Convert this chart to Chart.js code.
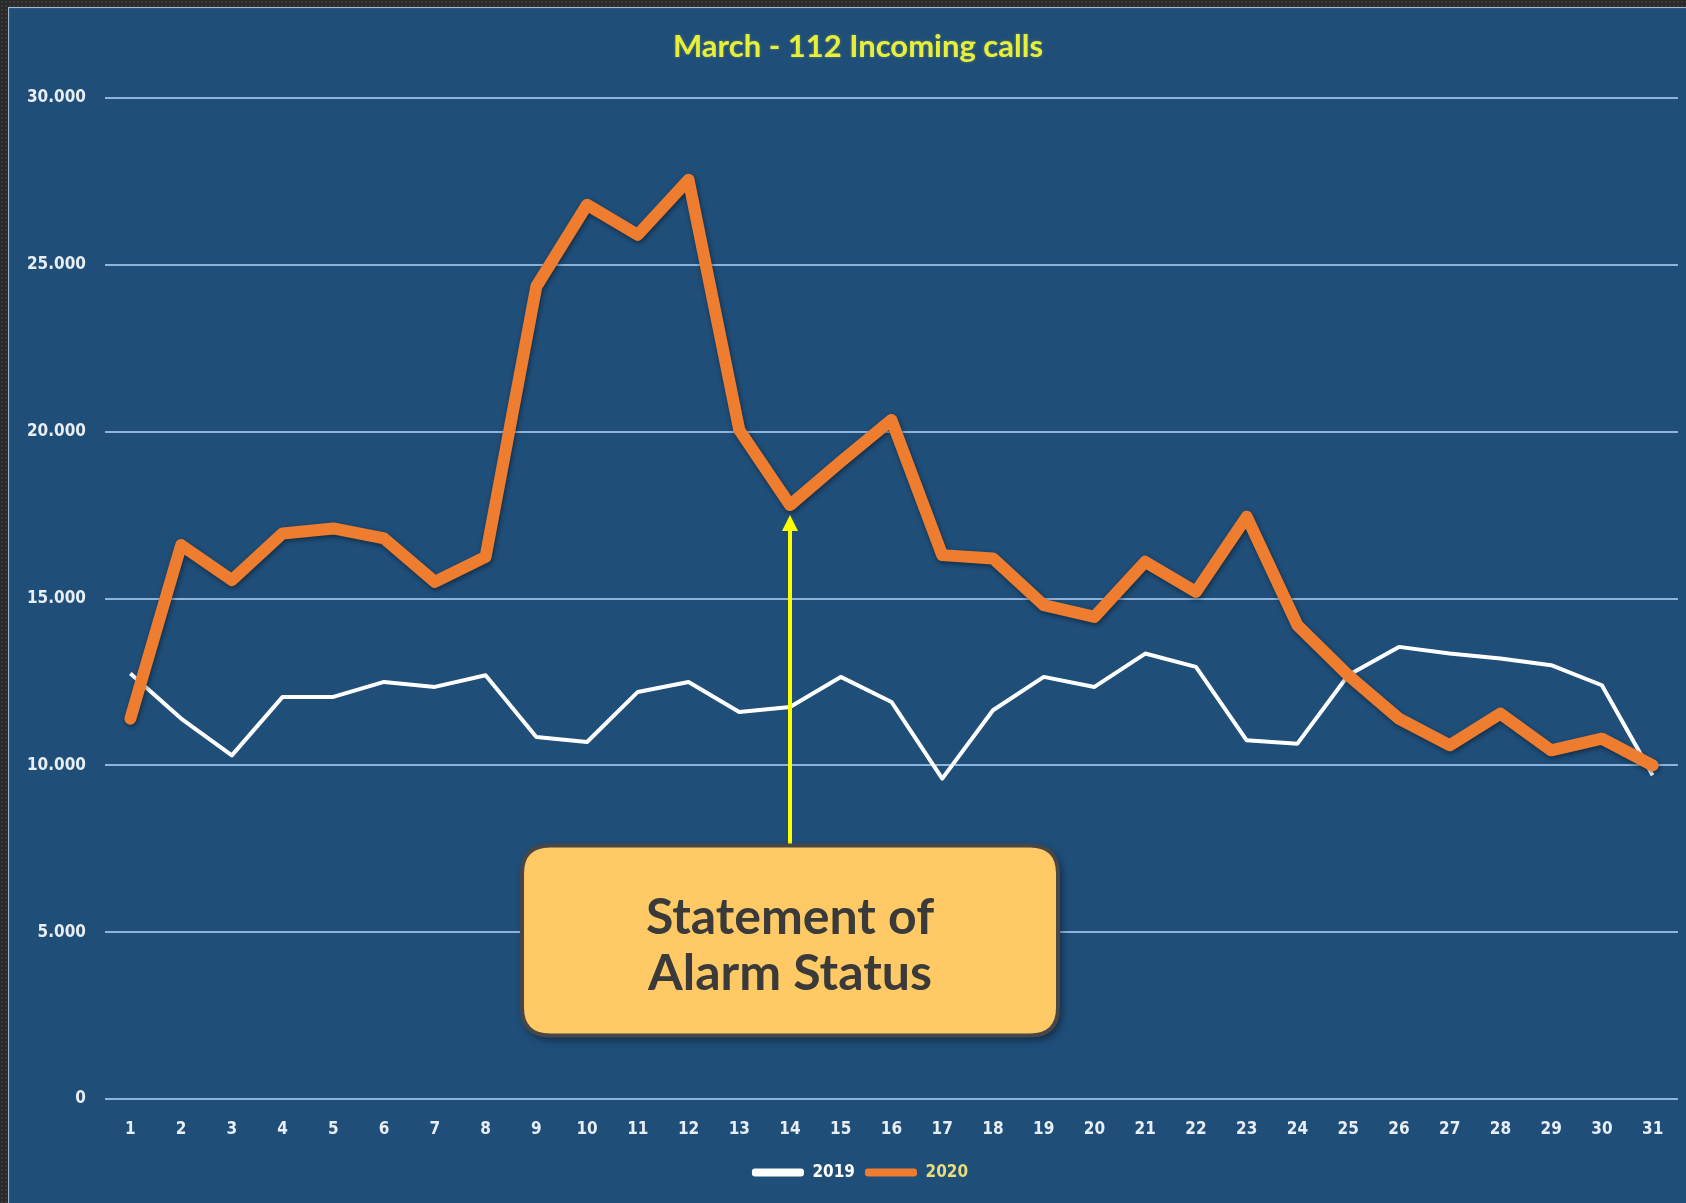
<!DOCTYPE html>
<html>
<head>
<meta charset="utf-8">
<script src="https://cdn.jsdelivr.net/npm/chart.js@4.4.1/dist/chart.umd.min.js"></script>
<style>
  html, body { margin: 0; padding: 0; }
  body {
    width: 1686px; height: 1203px; overflow: hidden;
    background-color: #2a2a2a;
    background-image: radial-gradient(#3a3a3a 1px, transparent 1.5px);
    background-size: 4px 4px;
    position: relative;
  }
  #panel {
    position: absolute; left: 8px; top: 7px; width: 1678px; height: 1196px;
    background: #1f4e79;
    box-shadow: inset 1px 1px 0 #9fb6cc, inset 2px 2px 0 #2c5782;
  }
  canvas { display: block; }
</style>
</head>
<body>
<div id="panel"><canvas id="c" width="1678" height="1196"></canvas></div>
<script>
// ---- data ----
const days = ['1','2','3','4','5','6','7','8','9','10','11','12','13','14','15','16','17','18','19','20','21','22','23','24','25','26','27','28','29','30','31'];
const calls2019 = [12750, 11400, 10300, 12050, 12050, 12500, 12350, 12700, 10850, 10700, 12200, 12500, 11600, 11750, 12650, 11900, 9600, 11650, 12650, 12350, 13350, 12950, 10750, 10650, 12700, 13550, 13350, 13200, 13000, 12400, 9700];
const calls2020 = [11400, 16600, 15550, 16950, 17100, 16800, 15500, 16250, 24350, 26800, 25900, 27550, 20050, 17800, 19100, 20350, 16300, 16200, 14800, 14450, 16100, 15200, 17450, 14200, 12700, 11400, 10600, 11550, 10450, 10800, 10000];
const yTicks = [0, 5000, 10000, 15000, 20000, 25000, 30000];
const titleText = 'March - 112 Incoming calls';
const calloutLines = ['Statement of', 'Alarm Status'];
const calloutDayIndex = 13;
const calloutTopValue = 7600;
const calloutBottomValue = 1900;

function fmt(v) {
  if (v === 0) return '0';
  const t = Math.floor(v / 1000), r = String(v % 1000).padStart(3, '0');
  return t + '.' + r;
}

const shadowPlugin = {
  id: 'lineShadow',
  beforeDatasetDraw(chart, args) {
    if (chart.data.datasets[args.index].label === '2020') {
      const ctx = chart.ctx;
      ctx.save();
      ctx.shadowColor = 'rgba(0,0,0,0.45)';
      ctx.shadowBlur = 5;
      ctx.shadowOffsetX = 1;
      ctx.shadowOffsetY = 2;
    }
  },
  afterDatasetDraw(chart, args) {
    if (chart.data.datasets[args.index].label === '2020') chart.ctx.restore();
  }
};

const legendShift = {
  id: 'legendShift',
  afterLayout(chart) {
    if (chart.legend) { chart.legend.left += 17; chart.legend.right += 17; }
  }
};

function roundRect(ctx, x, y, w, h, r) {
  ctx.beginPath();
  ctx.moveTo(x + r, y);
  ctx.lineTo(x + w - r, y);
  ctx.quadraticCurveTo(x + w, y, x + w, y + r);
  ctx.lineTo(x + w, y + h - r);
  ctx.quadraticCurveTo(x + w, y + h, x + w - r, y + h);
  ctx.lineTo(x + r, y + h);
  ctx.quadraticCurveTo(x, y + h, x, y + h - r);
  ctx.lineTo(x, y + r);
  ctx.quadraticCurveTo(x, y, x + r, y);
  ctx.closePath();
}

const titlePlugin = {
  id: 'customTitle',
  afterDraw(chart) {
    const ctx = chart.ctx;
    ctx.save();
    ctx.fillStyle = '#e6ef3c';
    ctx.font = 'bold 31px Lato, "Open Sans", sans-serif';
    ctx.textAlign = 'center';
    ctx.textBaseline = 'middle';
    ctx.shadowColor = 'rgba(230,239,60,0.35)';
    ctx.shadowBlur = 3;
    ctx.fillText(titleText, chart.width / 2 + 11, 40);
    ctx.restore();
  }
};

const calloutPlugin = {
  id: 'callout',
  afterDraw(chart) {
    const ctx = chart.ctx;
    const xs = chart.scales.x, ys = chart.scales.y;
    const cx = xs.getPixelForValue(calloutDayIndex);
    const top = ys.getPixelForValue(calloutTopValue);
    const bottom = ys.getPixelForValue(calloutBottomValue);
    const tipY = ys.getPixelForValue(calls2020[calloutDayIndex]) + 10;
    const w = 536, h = bottom - top, x0 = cx - w / 2;

    // arrow
    ctx.save();
    ctx.strokeStyle = '#ffff00';
    ctx.fillStyle = '#ffff00';
    ctx.lineWidth = 4;
    ctx.beginPath();
    ctx.moveTo(cx, top);
    ctx.lineTo(cx, tipY + 14);
    ctx.stroke();
    ctx.beginPath();
    ctx.moveTo(cx, tipY);
    ctx.lineTo(cx - 8, tipY + 16);
    ctx.lineTo(cx + 8, tipY + 16);
    ctx.closePath();
    ctx.fill();
    ctx.restore();

    // box
    ctx.save();
    ctx.shadowColor = 'rgba(0,0,0,0.5)';
    ctx.shadowBlur = 8;
    ctx.shadowOffsetX = 3;
    ctx.shadowOffsetY = 4;
    roundRect(ctx, x0, top, w, h, 28);
    ctx.fillStyle = '#ffca65';
    ctx.fill();
    ctx.shadowColor = 'transparent';
    ctx.lineWidth = 4;
    ctx.strokeStyle = '#474747';
    ctx.stroke();
    ctx.restore();

    // text
    ctx.save();
    ctx.fillStyle = '#3a3a3a';
    ctx.font = 'bold 50px Lato, "DejaVu Sans", sans-serif';
    ctx.textAlign = 'center';
    ctx.textBaseline = 'alphabetic';
    ctx.fillText(calloutLines[0], cx, top + 89);
    ctx.fillText(calloutLines[1], cx, top + 145);
    ctx.restore();
  }
};

const tickFont = { family: '"DejaVu Sans Condensed", "DejaVu Sans", sans-serif', size: 17, weight: 'bold' };

new Chart(document.getElementById('c'), {
  type: 'line',
  data: {
    labels: days,
    datasets: [
      { label: '2019', data: calls2019, borderColor: '#ffffff', backgroundColor: '#ffffff', borderWidth: 4,
        pointRadius: 0, tension: 0, order: 1, borderJoinStyle: 'round' },
      { label: '2020', data: calls2020, borderColor: '#ee7d30', backgroundColor: '#ee7d30', borderWidth: 12,
        pointRadius: 0, tension: 0, order: 0, borderJoinStyle: 'round', borderCapStyle: 'round' }
    ]
  },
  options: {
    responsive: false,
    animation: false,
    layout: { padding: { left: 0, right: 8, top: 91, bottom: 12 } },
    plugins: {
      tooltip: { enabled: false },
      title: { display: false },
      legend: {
        position: 'bottom',
        labels: {
          boxWidth: 52,
          boxHeight: 8,
          padding: 10,
          font: tickFont,
          generateLabels(chart) {
            return [
              { text: '2019', fillStyle: '#ffffff', strokeStyle: '#ffffff', lineWidth: 0, fontColor: '#ffffff', datasetIndex: 0, borderRadius: 3 },
              { text: '2020', fillStyle: '#ee7d30', strokeStyle: '#ee7d30', lineWidth: 0, fontColor: '#e8dd78', datasetIndex: 1, borderRadius: 3 }
            ];
          }
        }
      }
    },
    scales: {
      x: {
        type: 'category',
        offset: true,
        grid: { display: false },
        border: { display: false },
        ticks: { color: '#e8eef5', font: tickFont, padding: 12, maxRotation: 0, autoSkip: false },
        afterFit(s) { s.height = 55; }
      },
      y: {
        min: 0,
        max: 30000,
        afterBuildTicks(s) { s.ticks = yTicks.map(v => ({ value: v })); },
        grid: { color: '#8fb4db', lineWidth: 2, drawTicks: false },
        border: { display: false },
        ticks: { color: '#e8eef5', font: tickFont, padding: 19, callback: v => fmt(v) },
        afterFit(s) { s.width = 97; }
      }
    }
  },
  plugins: [legendShift, shadowPlugin, calloutPlugin, titlePlugin]
});
</script>
</body>
</html>
